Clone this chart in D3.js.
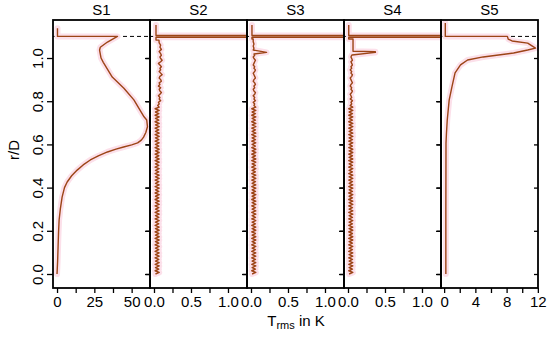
<!DOCTYPE html>
<html><head><meta charset="utf-8">
<script src="https://cdn.jsdelivr.net/npm/d3@7"></script>
<style>
body{margin:0;background:#fff}
text{font-family:"Liberation Sans",Arial,Helvetica,sans-serif;fill:#000}
</style>
</head><body>
<svg id="c" width="550" height="337"></svg>
<script>
// ---------------- DATA ----------------
const panelNames = ["S1","S2","S3","S4","S5"];
const yTicks = [0,0.2,0.4,0.6,0.8,1.0];
const yTickLabels = ["0.0","0.2","0.4","0.6","0.8","1.0"];
const wallR = 1.1;

const xDomains = [[-2.7,62.3],[-0.054,1.257],[-0.054,1.257],[-0.054,1.257],[-0.40,12.02]];
const xTicks = [[0,12.5,25,37.5,50],[0,0.25,0.5,0.75,1],[0,0.25,0.5,0.75,1],[0,0.25,0.5,0.75,1],[0,2,4,6,8,10,12]];
const xTickLabels = [[0,25,50],[0,0.5,1],[0,0.5,1],[0,0.5,1],[0,4,8,12]];
const xTickFormats = ["d",".1f",".1f",".1f","d"];

// S1 profile (r/D, Trms)
const s1R = [0,0.06,0.125,0.19,0.25,0.3,0.356,0.4,0.426,0.455,0.481,0.505,0.528,0.548,0.565,0.578,0.588,0.598,0.607,0.62,0.634,0.655,0.682,0.713,0.728,0.76,0.806,0.86,0.912,0.98,1.0,1.037,1.05,1.074,1.10,1.10,1.138];
const s1T = [0,0.4,0.7,1.0,1.4,2.2,3.4,5,6.8,9.8,13.5,17.5,22.3,28,33.8,39.5,44.6,50,54,56.5,58,59.5,60.6,60.1,58.3,55.5,51.5,44.8,37,31,29.5,28.5,29,33.8,40.5,0.3,0.3];

// S2..S4: values sampled every 0.0075 in r/D from 0 to 1.0125
const rStep = 0.0075;
const s2Low = [
0.02,0.07,0.015,0.065,0.02,0.07,0.015,0.07,0.02,0.065,0.015,0.07,0.02,0.07,0.015,0.065,
0.02,0.07,0.015,0.065,0.02,0.07,0.015,0.07,0.02,0.065,0.015,0.07,0.02,0.07,0.015,0.065,
0.02,0.07,0.015,0.065,0.02,0.07,0.015,0.07,0.02,0.065,0.015,0.07,0.02,0.07,0.015,0.065,
0.02,0.07,0.015,0.065,0.02,0.07,0.015,0.07,0.02,0.065,0.015,0.07,0.02,0.07,0.015,0.065,
0.02,0.07,0.015,0.065,0.02,0.07,0.015,0.07,0.02,0.065,0.015,0.07,0.02,0.07,0.015,0.065,
0.02,0.07,0.015,0.065,0.02,0.07,0.015,0.07,0.02,0.065,0.015,0.07,0.02,0.07,0.015,0.065,
0.02,0.07,0.015,0.065,0.02,0.07,0.015,0.07,
0.05,0.07,0.06,0.09,0.07,0.08,0.06,0.08,0.1,0.08,0.07,0.09,0.06,0.08,0.07,0.1,
0.09,0.07,0.08,0.11,0.09,0.07,0.09,0.08,0.1,0.08,0.06,0.09,0.11,0.09,0.08,0.1];
const s2TopR = [1.02,1.03,1.04,1.05,1.06,1.07,1.083,1.083,1.096,1.096,1.104,1.104,1.153];
const s2TopT = [0.09,0.07,0.1,0.08,0.09,0.07,0.067,0.027,0.027,3,3,0.027,0.027];

const s3Low = [
0.015,0.065,0.01,0.06,0.015,0.065,0.01,0.065,0.015,0.06,0.01,0.065,0.015,0.065,0.01,0.06,
0.015,0.065,0.01,0.06,0.015,0.065,0.01,0.065,0.015,0.06,0.01,0.065,0.015,0.065,0.01,0.06,
0.015,0.065,0.01,0.06,0.015,0.065,0.01,0.065,0.015,0.06,0.01,0.065,0.015,0.065,0.01,0.06,
0.015,0.065,0.01,0.06,0.015,0.065,0.01,0.065,0.015,0.06,0.01,0.065,0.015,0.065,0.01,0.06,
0.015,0.065,0.01,0.06,0.015,0.065,0.01,0.065,0.015,0.06,0.01,0.065,0.015,0.065,0.01,0.06,
0.015,0.065,0.01,0.06,0.015,0.065,0.01,0.065,0.015,0.06,0.01,0.065,0.015,0.065,0.01,0.06,
0.015,0.065,0.01,0.06,0.015,0.065,0.01,0.065,
0.04,0.05,0.03,0.06,0.04,0.05,0.03,0.05,0.06,0.04,0.03,0.05,0.04,0.06,0.05,0.03,
0.04,0.06,0.05,0.04,0.03,0.05,0.06,0.04,0.05,0.03,0.04,0.05,0.06,0.04,0.03,0.05];
const s3TopR = [1.0185,1.026,1.037,1.045,1.055,1.065,1.075,1.088,1.088,1.096,1.096,1.104,1.104,1.153];
const s3TopT = [0.04,0.21,0.03,0.04,0.03,0.04,0.03,0.03,0.013,0.013,3,3,0.013,0.013];

const s4Low = [
0.015,0.065,0.01,0.06,0.015,0.065,0.01,0.065,0.015,0.06,0.01,0.065,0.015,0.065,0.01,0.06,
0.015,0.065,0.01,0.06,0.015,0.065,0.01,0.065,0.015,0.06,0.01,0.065,0.015,0.065,0.01,0.06,
0.015,0.065,0.01,0.06,0.015,0.065,0.01,0.065,0.015,0.06,0.01,0.065,0.015,0.065,0.01,0.06,
0.015,0.065,0.01,0.06,0.015,0.065,0.01,0.065,0.015,0.06,0.01,0.065,0.015,0.065,0.01,0.06,
0.015,0.065,0.01,0.06,0.015,0.065,0.01,0.065,0.015,0.06,0.01,0.065,0.015,0.065,0.01,0.06,
0.015,0.065,0.01,0.06,0.015,0.065,0.01,0.065,0.015,0.06,0.01,0.065,0.015,0.065,0.01,0.06,
0.015,0.065,0.01,0.06,0.015,0.065,0.01,0.065,
0.03,0.05,0.04,0.06,0.03,0.05,0.04,0.03,0.05,0.06,0.04,0.05,0.03,0.04,0.06,0.05,
0.04,0.03,0.05,0.06,0.04,0.05,0.03,0.05,0.04,0.06,0.05,0.04,0.06,0.05,0.04,0.05];
const s4TopR = [1.014,1.026,1.0295,1.031,1.088,1.088,1.096,1.096,1.104,1.104,1.153];
const s4TopT = [0.055,0.37,0.37,0.068,0.068,0.01,0.01,3,3,0.01,0.01];

const s5R = [0,0.3,0.606,0.653,0.713,0.806,0.866,0.931,0.968,0.991,1.005,1.023,1.037,1.046,1.06,1.069,1.079,1.088,1.1,1.1,1.162];
const s5T = [0.22,0.22,0.24,0.3,0.4,0.65,1.0,1.4,2.1,3.0,5.0,8.9,10.7,11.7,11.1,10.7,8.7,8.2,8.1,0.15,0.15];

// ---------------- BUILD ----------------
function gridSeries(low, topR, topT){
  const pts = low.map((t,i)=>({r:i*rStep, t}));
  topR.forEach((r,i)=>pts.push({r, t:topT[i]}));
  return pts;
}
const series = [
  s1R.map((r,i)=>({r, t:s1T[i]})),
  gridSeries(s2Low, s2TopR, s2TopT),
  gridSeries(s3Low, s3TopR, s3TopT),
  gridSeries(s4Low, s4TopR, s4TopT),
  s5R.map((r,i)=>({r, t:s5T[i]}))
];

const svg = d3.select("#c");
const panelLeft = 53, pw = 97, panelTop = 20, panelBottom = 288;
const y = d3.scaleLinear().domain([-0.0648, 1.176]).range([panelBottom, panelTop]);

const lineColor = "#9c4416", haloColor = "#fce0ea";
const fs = 15;

panelNames.forEach((name, k) => {
  const x0 = panelLeft + k*pw;
  const x = d3.scaleLinear().domain(xDomains[k]).range([x0, x0+pw]);
  const g = svg.append("g");

  g.append("clipPath").attr("id","clip"+k)
    .append("rect").attr("x",x0).attr("y",panelTop).attr("width",pw).attr("height",panelBottom-panelTop);

  const plot = g.append("g").attr("clip-path","url(#clip"+k+")");
  plot.append("line").attr("x1",x0).attr("x2",x0+pw)
    .attr("y1",y(wallR)).attr("y2",y(wallR))
    .attr("stroke","#000").attr("stroke-width",1).attr("stroke-dasharray","4,3");

  const line = d3.line().x(d=>x(d.t)).y(d=>y(d.r));
  plot.append("path").datum(series[k]).attr("d",line)
    .attr("fill","none").attr("stroke",haloColor).attr("stroke-width",6)
    .attr("stroke-linejoin","round").attr("stroke-linecap","round");
  plot.append("path").datum(series[k]).attr("d",line)
    .attr("fill","none").attr("stroke",lineColor).attr("stroke-width",1.4)
    .attr("stroke-linejoin","round");

  const fmt = d3.format(xTickFormats[k]);
  const xa = g.append("g").attr("transform",`translate(0,${panelBottom})`)
    .call(d3.axisBottom(x).tickValues(xTicks[k]).tickSize(5).tickSizeOuter(0)
      .tickFormat(v => xTickLabels[k].includes(v) ? fmt(v) : ""));
  xa.select(".domain").remove();
  xa.selectAll("line").attr("stroke","#000").attr("stroke-width",1.3);
  xa.selectAll("text").attr("font-size",fs).attr("dy","0.71em").attr("y",8);

  const outLen = k===0 ? 6 : 5;
  const ya = g.append("g").attr("transform",`translate(${x0},0)`)
    .call(d3.axisLeft(y).tickValues(yTicks).tickSize(outLen).tickSizeOuter(0)
      .tickFormat((v,i)=> k===0 ? yTickLabels[i] : ""));
  ya.select(".domain").remove();
  ya.selectAll("line").attr("stroke","#000").attr("stroke-width",1.3);
  if (k===0){
    ya.selectAll(".tick text").attr("font-size",fs)
      .attr("text-anchor","middle").attr("x",null).attr("dy",null)
      .attr("transform","translate(-10,0) rotate(-90)");
  }
  const yr = g.append("g").attr("transform",`translate(${x0+pw},0)`)
    .call(d3.axisLeft(y).tickValues(yTicks).tickSize(4).tickSizeOuter(0).tickFormat(""));
  yr.select(".domain").remove();
  yr.selectAll("line").attr("stroke","#000").attr("stroke-width",1.3);

  g.append("rect").attr("x",x0).attr("y",panelTop).attr("width",pw).attr("height",panelBottom-panelTop)
    .attr("fill","none").attr("stroke","#000").attr("stroke-width",1.8);

  g.append("text").attr("x",x0+pw/2).attr("y",15).attr("text-anchor","middle")
    .attr("font-size",fs).text(name);
});

const xl = svg.append("text").attr("x",296).attr("y",326).attr("text-anchor","middle").attr("font-size",fs);
xl.append("tspan").text("T");
xl.append("tspan").attr("font-size",11).attr("dy",3).text("rms");
xl.append("tspan").attr("dy",-3).text(" in K");

svg.append("text").attr("transform","translate(19,150) rotate(-90)")
  .attr("text-anchor","middle").attr("font-size",fs).text("r/D");
</script>
</body></html>
